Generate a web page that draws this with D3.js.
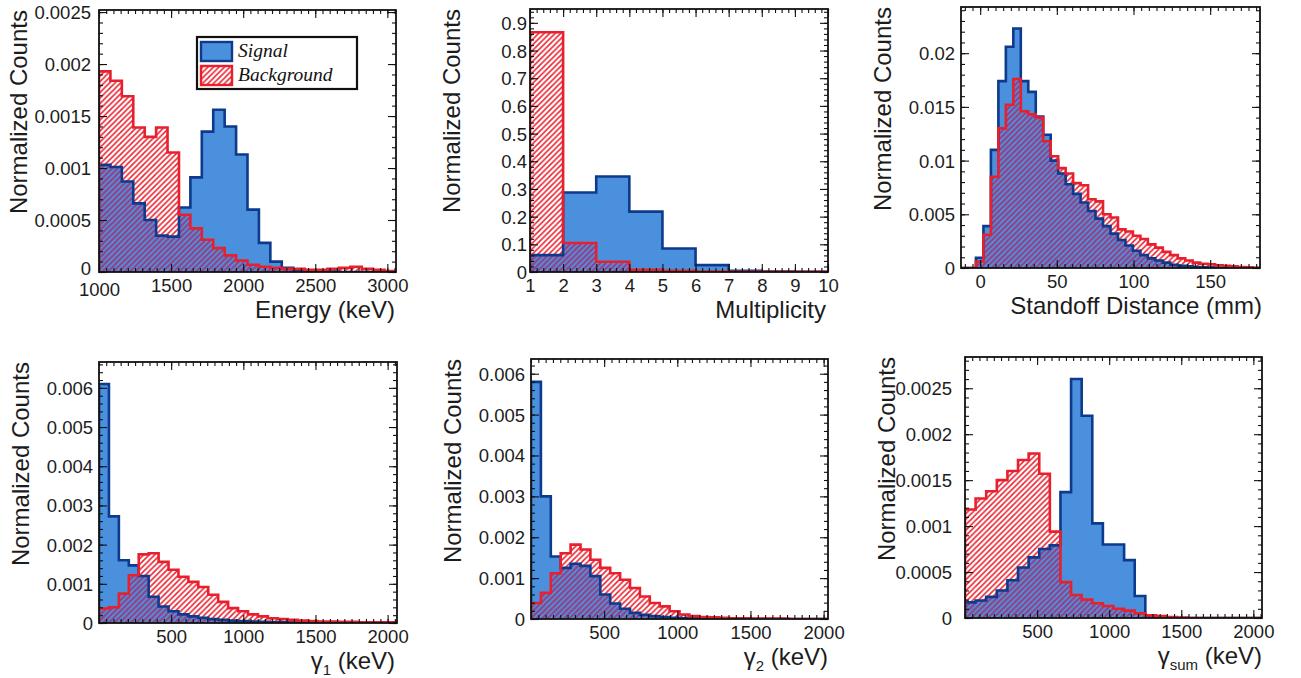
<!DOCTYPE html>
<html><head><meta charset="utf-8">
<script src="https://cdn.jsdelivr.net/npm/d3@7"></script>
<style>body{margin:0;background:#fff}svg{display:block}</style>
</head><body>
<svg id="c" width="1301" height="678"></svg>
<script>
// ---------------- DATA ----------------
// Energy (keV), histogram range and bin contents
const energyRange = [1000, 3060];
const energySignal = [0.00103,0.00101,0.00087,0.00066,0.00050,0.00035,0.00034,0.00062,0.00091,0.00135,0.00156,0.00140,0.00113,0.00060,0.00028,0.00010,0.00004,0.00002,0.00001,0.00001,0.000005,0,0,0,0,0];
const energyBackground = [0.00193,0.00184,0.00169,0.00139,0.00130,0.00139,0.00115,0.00055,0.00042,0.00031,0.00023,0.00016,0.00011,0.00007,0.00005,0.00004,0.00003,0.00003,0.00002,0.00002,0.00003,0.00004,0.00005,0.00003,0.00002,0.00001];
const energyXTicks = [1000,1500,2000,2500,3000];
const energyYTicks = [0,0.0005,0.001,0.0015,0.002,0.0025];

// Multiplicity
const multRange = [1, 10];
const multSignal = [0.061,0.287,0.345,0.218,0.085,0.025,0.004,0.002,0.001];
const multBackground = [0.866,0.105,0.037,0.008,0.004,0.002,0.001,0.001,0.001];
const multXTicks = [1,2,3,4,5,6,7,8,9,10];
const multYTicks = [0,0.1,0.2,0.3,0.4,0.5,0.6,0.7,0.8,0.9];

// Standoff distance (mm)
const standoffRange = [-12.5, 182.5];
const standoffSignal = [0,0,0.00095,0.0039,0.011,0.0174,0.0206,0.0223,0.0174,0.0164,0.0141,0.0124,0.0100,0.0088,0.0078,0.0069,0.0061,0.0053,0.0046,0.0039,0.0032,0.0026,0.0021,0.0016,0.0012,0.0009,0.0007,0.0005,0.0003,0.0002,0.00015,0.0001,0.00006,0.00004,0.00003,0.00002,0.00001,0.00001,0,0];
const standoffBackground = [0,0,0.0006,0.0031,0.0085,0.0130,0.0152,0.0176,0.0146,0.0143,0.0140,0.0118,0.0104,0.0093,0.0088,0.0079,0.0077,0.0064,0.0062,0.0050,0.0047,0.0036,0.0034,0.0030,0.0027,0.0022,0.0019,0.0015,0.0012,0.0009,0.0007,0.0005,0.0004,0.00035,0.00025,0.0002,0.00015,0.0001,0.00006,0.00003];
const standoffXTicks = [0,50,100,150];
const standoffYTicks = [0,0.005,0.01,0.015,0.02];

// gamma 1 (keV)
const gamma1Range = [0, 2065];
const gamma1Signal = [0.0061,0.00272,0.0016,0.00147,0.0012,0.00067,0.00042,0.0003,0.00022,0.00017,0.00013,0.0001,0.00008,0.00006,0.00005,0.00004,0.00003,0.00002,0.00002,0.00001,0.00001,0.00001,0,0,0,0,0,0,0,0];
const gamma1Background = [0.00037,0.0004,0.00075,0.00122,0.00175,0.00178,0.00156,0.00136,0.00118,0.00105,0.00092,0.00072,0.00054,0.00038,0.0003,0.00022,0.00017,0.00012,0.0001,0.00008,0.00006,0.00005,0.00004,0.00004,0.00003,0.00003,0.00002,0.00002,0.00002,0.00002];
const gammaXTicks = [500,1000,1500,2000];
const gamma1YTicks = [0,0.001,0.002,0.003,0.004,0.005,0.006];

// gamma 2 (keV)
const gamma2Range = [0, 2030];
const gamma2Signal = [0.0058,0.0030,0.00153,0.00125,0.00135,0.0013,0.00105,0.0006,0.00038,0.00025,0.00015,0.0001,0.00007,0.00005,0.00003,0.00002,0.00002,0.00001,0.00001,0.00001,0,0,0,0,0,0,0,0,0,0];
const gamma2Background = [0.00039,0.00064,0.00112,0.00161,0.00182,0.0017,0.00145,0.00125,0.00112,0.00096,0.00076,0.00055,0.00039,0.00031,0.00019,0.00011,0.00007,0.00005,0.00004,0.00003,0.00002,0.00002,0.00001,0.00001,0.00001,0.00001,0,0,0,0];
const gamma2YTicks = [0,0.001,0.002,0.003,0.004,0.005,0.006];

// gamma sum (keV)
const gammaSumRange = [0, 2060];
const gammaSumSignal = [0.00017,0.00019,0.00023,0.0003,0.00041,0.00055,0.00066,0.00075,0.00079,0.00137,0.0026,0.0022,0.00103,0.0008,0.0008,0.00063,0.00024,0.00003,0.00001,0.000005,0,0,0,0,0,0,0,0];
const gammaSumBackground = [0.00118,0.0013,0.00138,0.0015,0.0016,0.00172,0.00179,0.00157,0.00094,0.00039,0.00025,0.0002,0.00016,0.00013,0.0001,0.00008,0.00005,0.00003,0.00002,0.00001,0.000005,0,0,0,0,0,0,0];
const gammaSumYTicks = [0,0.0005,0.001,0.0015,0.002,0.0025];

const legendLabels = ["Signal", "Background"];
const yTitle = "Normalized Counts";

// ---------------- STYLE ----------------
const C = {fill:"#4b90dd", navy:"#0d3a8c", red:"#e8202e", purple:"#7a4a9e", text:"#1c1c1c"};
const FONT = "'Liberation Sans', Arial, Helvetica, sans-serif";

const panels = [
 {L:99,R:396,T:10,B:272,xr:energyRange,yMax:0.00252,sig:energySignal,bg:energyBackground,xt:energyXTicks,xm:50,yt:energyYTicks,ym:0.0001,ylr:91,ytx:27,title:["Energy (keV)"],tx:395,legend:true,cornerFix:true},
 {L:530,R:828,T:9,B:272,xr:multRange,yMax:0.95,sig:multSignal,bg:multBackground,xt:multXTicks,xm:0.2,yt:multYTicks,ym:0.02,ylr:527,ytx:460,title:["Multiplicity"],tx:826},
 {L:961,R:1260,T:7,B:268,xr:standoffRange,yMax:0.0243,sig:standoffSignal,bg:standoffBackground,xt:standoffXTicks,xm:5,yt:standoffYTicks,ym:0.001,ylr:955,ytx:891,title:["Standoff Distance (mm)"],tx:1262},
 {L:99,R:397,T:362,B:623,xr:gamma1Range,yMax:0.00666,sig:gamma1Signal,bg:gamma1Background,xt:gammaXTicks,xm:50,yt:gamma1YTicks,ym:0.0002,ylr:93,ytx:29,title:["γ","1"," (keV)"],tx:395},
 {L:531,R:828,T:359,B:619,xr:gamma2Range,yMax:0.00636,sig:gamma2Signal,bg:gamma2Background,xt:gammaXTicks,xm:50,yt:gamma2YTicks,ym:0.0002,ylr:525,ytx:461,title:["γ","2"," (keV)"],tx:828},
 {L:965,R:1262,T:357,B:618,xr:gammaSumRange,yMax:0.00284,sig:gammaSumSignal,bg:gammaSumBackground,xt:gammaXTicks,xm:50,yt:gammaSumYTicks,ym:0.0001,ylr:952,ytx:895,title:["γ","sum"," (keV)"],tx:1262}
];

const svg = d3.select("#c");
const defs = svg.append("defs");
function hatch(id, color){
  const s = 5.5;
  defs.append("pattern").attr("id",id).attr("patternUnits","userSpaceOnUse")
    .attr("width",s).attr("height",s)
    .append("path").attr("d",`M-1,1L1,-1M0,${s}L${s},0M${s-1},${s+1}L${s+1},${s-1}`)
    .attr("stroke",color).attr("stroke-width",1.5);
}
hatch("hR", C.red);
hatch("hP", C.purple);

const fmt = d3.format("~g");

panels.forEach((p,pi)=>{
  const x = d3.scaleLinear().domain(p.xr).range([p.L,p.R]);
  const y = d3.scaleLinear().domain([0,p.yMax]).range([p.B,p.T]);
  const n = p.sig.length, w = (p.xr[1]-p.xr[0])/n;
  const pts = vals => [[p.xr[0],0]].concat(vals.map((v,i)=>[p.xr[0]+i*w, v]), [[p.xr[1],0]]);
  const area = d3.area().curve(d3.curveStepAfter).x(d=>x(d[0])).y0(y(0)).y1(d=>y(d[1]));
  const line = d3.line().curve(d3.curveStepAfter).x(d=>x(d[0])).y(d=>y(d[1]));
  const overlap = p.sig.map((s,i)=>Math.min(s,p.bg[i]));

  defs.append("clipPath").attr("id","clip"+pi).append("rect")
    .attr("x",p.L).attr("y",p.T).attr("width",p.R-p.L).attr("height",p.B-p.T);
  const g = svg.append("g").attr("clip-path",`url(#clip${pi})`);
  g.append("path").attr("d",area(pts(p.sig))).attr("fill",C.fill);
  g.append("path").attr("d",area(pts(p.bg))).attr("fill","url(#hR)");
  g.append("path").attr("d",area(pts(overlap))).attr("fill","url(#hP)");
  g.append("path").attr("d",line(pts(p.sig))).attr("fill","none").attr("stroke",C.navy).attr("stroke-width",2.6);
  g.append("path").attr("d",line(pts(p.bg))).attr("fill","none").attr("stroke",C.red).attr("stroke-width",2.6);

  // frame
  svg.append("rect").attr("x",p.L).attr("y",p.T).attr("width",p.R-p.L).attr("height",p.B-p.T)
    .attr("fill","none").attr("stroke","#111").attr("stroke-width",1.8);

  const xMinor = d3.range(Math.ceil(p.xr[0]/p.xm)*p.xm, p.xr[1]+1e-9, p.xm);
  const yMinor = d3.range(0, p.yMax+1e-12, p.ym);
  const mk = (axis, sc, vals, size) => axis(sc).tickValues(vals).tickSize(size).tickSizeOuter(0).tickFormat("");
  const put = (gen, tx, ty) => {
    const a = svg.append("g").attr("transform",`translate(${tx},${ty})`).call(gen);
    a.select(".domain").remove();
    a.selectAll("line").attr("stroke","#111").attr("stroke-width",1.1);
    return a;
  };
  // minor ticks, all four sides
  put(mk(d3.axisBottom,x,xMinor,-4),0,p.B);
  put(mk(d3.axisTop,x,xMinor,-4),0,p.T);
  put(mk(d3.axisLeft,y,yMinor,-4),p.L,0);
  put(mk(d3.axisRight,y,yMinor,-4),p.R,0);
  // major ticks
  put(mk(d3.axisTop,x,p.xt,-8),0,p.T);
  put(mk(d3.axisRight,y,p.yt,-8),p.R,0);
  const xb = put(d3.axisBottom(x).tickValues(p.xt).tickSize(-8).tickSizeOuter(0).tickFormat(fmt),0,p.B);
  xb.selectAll("text").attr("y",(d,i)=> p.cornerFix && i===0 ? 24 : 20).attr("dy",null).attr("font-size","18.5px")
    .attr("font-family",FONT).attr("fill",C.text);
  const yl = put(d3.axisLeft(y).tickValues(p.yt).tickSize(-8).tickSizeOuter(0).tickFormat(fmt),p.L,0);
  yl.selectAll("text").attr("x",p.ylr-p.L).attr("dy","0.35em").attr("font-size","18.5px")
    .attr("font-family",FONT).attr("fill",C.text)
    .attr("y",(d,i)=> p.cornerFix && i===0 ? -4 : 0);

  // y title
  svg.append("text").attr("transform",`translate(${p.ytx},${p.T}) rotate(-90)`)
    .attr("text-anchor","end").attr("font-family",FONT).attr("font-size","24px")
    .attr("fill",C.text).text(yTitle);

  // x title
  const t = svg.append("text").attr("x",p.tx).attr("y",p.B+46).attr("text-anchor","end")
    .attr("font-family",FONT).attr("font-size","24px").attr("fill",C.text);
  if (p.title.length===1) t.text(p.title[0]);
  else {
    t.append("tspan").text(p.title[0]);
    t.append("tspan").attr("font-size","15px").attr("dy",6).text(p.title[1]);
    t.append("tspan").attr("dy",-6).text(p.title[2]);
  }

  if (p.legend){
    const lg = svg.append("g");
    lg.append("rect").attr("x",197).attr("y",37).attr("width",160).attr("height",52)
      .attr("fill","#fff").attr("stroke","#111").attr("stroke-width",2.2);
    lg.append("rect").attr("x",201).attr("y",42).attr("width",31).attr("height",19)
      .attr("fill",C.fill).attr("stroke",C.navy).attr("stroke-width",2.4);
    lg.append("rect").attr("x",201).attr("y",66).attr("width",31).attr("height",19)
      .attr("fill","url(#hR)").attr("stroke",C.red).attr("stroke-width",2.4);
    legendLabels.forEach((s,i)=>{
      lg.append("text").attr("x",238).attr("y",57+i*24)
        .attr("font-family","'Liberation Serif','Times New Roman',serif").attr("font-style","italic")
        .attr("font-size","19.5px").attr("fill","#111").text(s);
    });
  }
});
</script>
</body></html>
